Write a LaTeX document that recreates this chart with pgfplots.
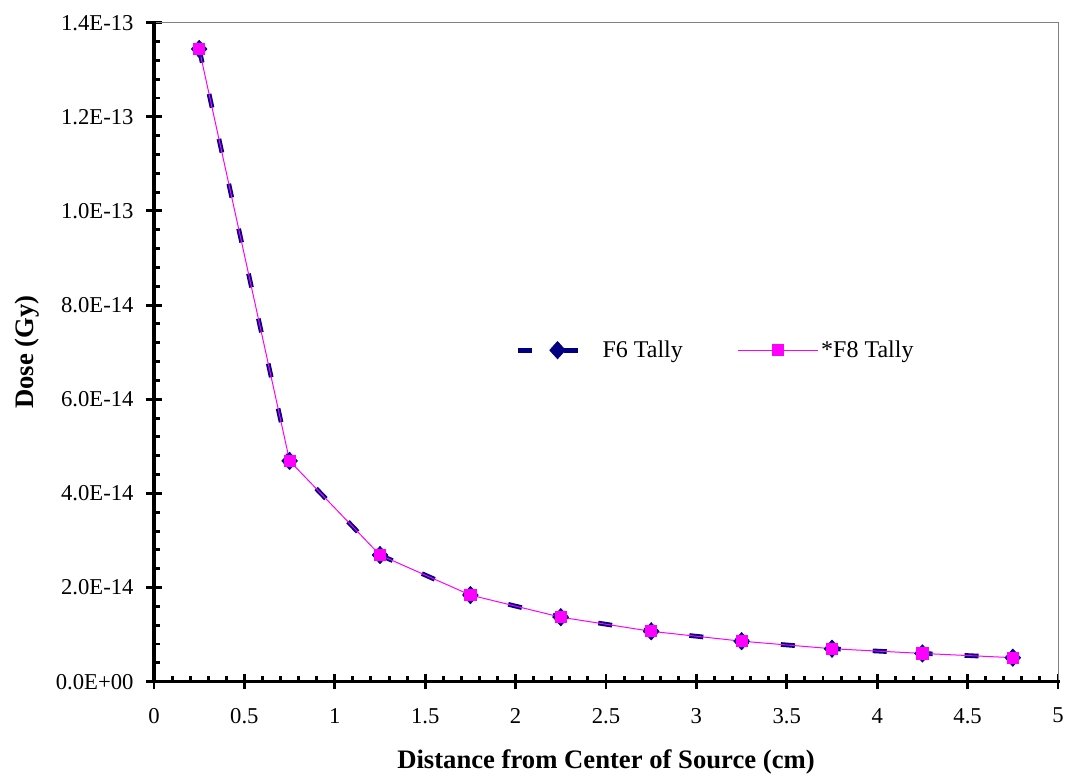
\documentclass[border=0pt]{standalone}
\usepackage{pgfplots}
\pgfplotsset{compat=1.18}
\usepackage{fontspec}
\setmainfont{Liberation Serif}
\definecolor{navyc}{HTML}{000080}
\definecolor{magc}{HTML}{FF00FF}
\definecolor{grayc}{HTML}{808080}
\begin{document}
\begin{tikzpicture}
\begin{axis}[
  scale only axis,
  width=678pt, height=494.25pt,
  xmin=0, xmax=5, ymin=0, ymax=1.4e-13,
  /tikz/line width=2.2pt,
  axis lines*=left,
  axis line style={line width=2.2pt, black},
  clip=false,
  scaled y ticks=false,
  xtick={0,0.5,1,1.5,2,2.5,3,3.5,4,4.5,5},
  xticklabels={0,0.5,1,1.5,2,2.5,3,3.5,4,4.5,5},
  ytick={0,2e-14,4e-14,6e-14,8e-14,1e-13,1.2e-13,1.4e-13},
  yticklabels={0.0E+00,2.0E-14,4.0E-14,6.0E-14,8.0E-14,1.0E-13,1.2E-13,1.4E-13},
  minor tick num=4,
  tick align=inside,
  major tick length=6pt,
  minor tick length=4.5pt,
  tick style={line width=2.2pt, black},
  extra x ticks={0,0.5,1,1.5,2,2.5,3,3.5,4,4.5,5},
  extra x tick labels={},
  extra y ticks={0,2e-14,4e-14,6e-14,8e-14,1e-13,1.2e-13,1.4e-13},
  extra y tick labels={},
  extra tick style={tick align=outside, major tick length=5.7pt, grid=none, line width=2.2pt, black},
  xticklabel style={font=\fontsize{17}{19}\selectfont, anchor=north, inner sep=0pt, yshift=-18.75pt},
  yticklabel style={font=\fontsize{17}{19}\selectfont, anchor=east, inner sep=0pt, xshift=-14.25pt},
  xlabel={Distance from Center of Source (cm)},
  ylabel={Dose (Gy)},
  xlabel style={font=\fontsize{20}{22}\selectfont\bfseries, at={(axis description cs:0.5,-0.132)}, anchor=base},
  ylabel style={font=\fontsize{20}{22}\selectfont\bfseries, at={(axis description cs:-0.1405,0.5)}, anchor=center},
  legend style={at={(axis description cs:0.3935,0.503)}, anchor=west, draw=none, fill=none,
    font=\fontsize{18}{20}\selectfont, legend columns=2,
    /tikz/every even column/.append style={column sep=39pt}},
  legend cell align=left,
  legend image code/.code={\draw[mark repeat=2,mark phase=2,#1] plot coordinates {(0pt,0pt)(30pt,0pt)(60pt,0pt)};},
]
\draw[grayc, line width=0.75pt] (rel axis cs:0,1) -- (rel axis cs:1,1) -- (rel axis cs:1,0);
\draw[black, line width=2.4pt, line cap=rect] (rel axis cs:0,1) -- (rel axis cs:0,0) -- (rel axis cs:1,0);
\addplot[navyc, line width=3.5pt, dash pattern=on 10.5pt off 24pt, line cap=butt,
  mark=diamond*, mark size=6.5pt, mark options={solid, fill=navyc, draw=navyc, line width=0.5pt, xscale=1.2}]
  coordinates {(0.25,1.344e-13) (0.75,4.69e-14) (1.25,2.69e-14) (1.75,1.84e-14) (2.25,1.37e-14)
               (2.75,1.07e-14) (3.25,8.6e-15) (3.75,7.0e-15) (4.25,6.0e-15) (4.75,5.1e-15)};
\addlegendentry{F6 Tally}
\addplot[magc, line width=0.75pt, mark=square*, mark size=4.2pt, mark options={solid, fill=magc, draw=magc, line width=0.75pt}]
  coordinates {(0.25,1.344e-13) (0.75,4.69e-14) (1.25,2.69e-14) (1.75,1.84e-14) (2.25,1.37e-14)
               (2.75,1.07e-14) (3.25,8.6e-15) (3.75,7.0e-15) (4.25,6.0e-15) (4.75,5.1e-15)};
\addlegendentry{*F8 Tally}
\coordinate (bl) at (rel axis cs:0,0);
\coordinate (tr) at (rel axis cs:1,1);
\end{axis}
\pgfresetboundingbox
\path ([shift={(-115.5pt,-72.2pt)}]bl) rectangle ([shift={(6.75pt,17pt)}]tr);
\end{tikzpicture}
\end{document}
